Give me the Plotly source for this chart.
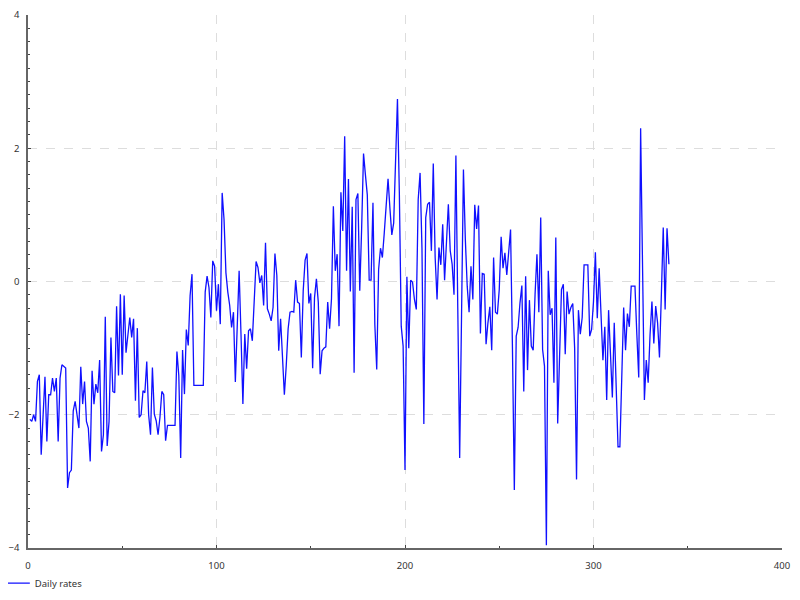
import plotly.graph_objects as go

# Daily index (1..340) and values
day = list(range(1, 341))
rates = [
    -2.07, -2.1, -2.0, -2.1, -1.5, -1.4, -2.6, -2.0, -1.43, -2.4,
    -1.7, -1.7, -1.45, -1.65, -1.45, -2.4, -1.45, -1.25, -1.27, -1.3,
    -3.1, -2.87, -2.83, -1.94, -1.8, -1.97, -2.2, -1.28, -1.84, -1.5,
    -2.1, -2.2, -2.7, -1.34, -1.84, -1.54, -1.67, -1.18, -2.55, -2.3,
    -0.53, -2.47, -2.1, -0.84, -1.65, -1.67, -0.37, -1.41, -0.19, -1.4,
    -0.21, -1.07, -0.79, -0.54, -0.84, -0.56, -1.79, -0.7, -2.04, -2.0,
    -1.64, -1.67, -1.2, -2.0, -2.3, -1.29, -1.99, -2.09, -2.3, -2.04,
    -1.65, -1.7, -2.39, -2.16, -2.16, -2.16, -2.16, -2.16, -1.05, -1.41,
    -2.65, -1.03, -1.69, -0.72, -0.96, -0.21, 0.11, -1.56, -1.56, -1.56,
    -1.56, -1.56, -1.56, -0.16, 0.08, -0.09, -0.54, 0.31, 0.23, -0.44,
    -0.04, -0.64, 1.33, 0.93, 0.13, -0.16, -0.36, -0.69, -0.46, -1.51,
    -0.7, 0.16, -0.8, -1.84, -0.79, -1.31, -0.74, -0.71, -0.89, -0.26,
    0.3, 0.21, -0.02, 0.09, -0.36, 0.58, -0.41, -0.49, -0.59, -0.39,
    0.42, 0.09, -1.04, -0.56, -1.21, -1.7, -1.26, -0.71, -0.46, -0.45,
    -0.46, 0.02, -0.31, -0.33, -1.14, -0.14, 0.32, 0.42, -0.33, -0.18,
    -1.3, -0.24, 0.04, -0.31, -1.39, -1.04, -1.0, -0.98, -0.31, -0.71,
    -0.26, 1.13, 0.16, 0.41, -0.67, 1.34, 0.76, 2.18, 0.16, 1.54,
    -0.15, 1.12, -1.37, 1.23, 1.32, -0.14, 0.8, 1.92, 1.6, 1.3,
    0.02, 0.02, 1.18, -0.65, -1.32, 0.18, 0.5, 0.36, 0.73, 1.16,
    1.54, 1.1, 0.7, 0.88, 1.8, 2.74, 1.33, -0.67, -0.97, -2.83,
    0.07, -1.0, 0.02, -0.01, -0.27, -0.42, 1.23, 1.63, 0.5, -2.14,
    0.96, 1.16, 1.19, 0.46, 1.77, 0.36, -0.27, 0.51, 0.25, 0.86,
    0.02, 0.64, 1.16, 0.46, 0.26, -0.2, 1.89, -0.4, -2.65, -0.5,
    1.68, 0.64, -0.07, -0.46, 0.23, -0.27, 1.15, 0.79, 1.14, -0.78,
    0.12, 0.11, -0.94, -0.62, -0.38, -1.03, 0.36, -0.46, -0.49, -0.12,
    0.67, 0.2, 0.43, 0.1, 0.52, 0.78, -1.0, -3.13, -0.82, -0.69,
    -0.32, -0.06, -1.65, 0.08, -1.33, -0.28, -0.97, -1.03, -0.19, 0.41,
    -0.46, 0.96, -1.02, -1.27, -3.96, 0.16, -0.5, -0.4, -1.52, 0.66,
    -2.13, -1.0, -0.12, -0.04, -1.09, -0.15, -0.49, -0.39, -0.33, -1.0,
    -2.97, -0.43, -0.79, -0.54, 0.25, 0.25, 0.25, -0.82, -0.72, -0.3,
    0.44, -0.55, 0.2, -0.5, -1.18, -0.68, -1.78, -0.43, -1.2, -1.74,
    -0.62, -1.4, -2.48, -2.48, -1.5, -0.39, -1.03, -0.48, -0.68, -0.07,
    -0.07, -0.07, -0.8, -1.44, 2.3, -0.2, -1.78, -1.18, -1.52, -0.8,
    -0.3, -0.93, -0.37, -0.62, -1.14, -0.2, 0.81, -0.42, 0.8, 0.26,
]

x_ticks = [0, 100, 200, 300, 400]
y_ticks = [-4, -2, 0, 2, 4]

fig = go.Figure()
fig.add_trace(go.Scatter(
    x=day, y=rates, mode="lines", name="Daily rates",
    line=dict(color="#1010ff", width=1.3),
))

axis_common = dict(
    showline=True, linecolor="#666666", linewidth=1.5,
    showgrid=True, gridcolor="#dddddd", griddash="dash", gridwidth=1,
    zeroline=False, ticks="inside", ticklen=3, tickcolor="#444444", tickwidth=1,
    tickfont=dict(family="Noto Sans", size=9.5, color="#333333"),
)

fig.update_xaxes(range=[0, 400], tickvals=x_ticks, ticklabelstandoff=8,
                 minor=dict(dtick=50, tick0=0, ticks="inside", ticklen=2,
                            tickcolor="#444444", showgrid=False),
                 **axis_common)
fig.update_yaxes(range=[-4, 4], tickvals=y_ticks, ticklabelstandoff=5,
                 minor=dict(dtick=0.2, tick0=0, ticks="inside", ticklen=2,
                            tickcolor="#444444", showgrid=False),
                 **axis_common)

fig.update_layout(
    width=800, height=600,
    margin=dict(l=20, r=26, t=7, b=60, autoexpand=False),
    plot_bgcolor="white", paper_bgcolor="white",
    font=dict(family="Noto Sans", size=9.5, color="#333333"),
    showlegend=True,
    legend=dict(x=-0.044, y=-0.066,
                xanchor="left", yanchor="middle", bgcolor="rgba(0,0,0,0)",
                font=dict(size=9.5, color="#333333")),
)

fig.write_html("out.html")
